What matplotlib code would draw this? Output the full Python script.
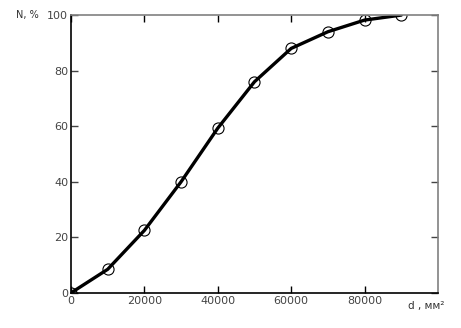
import matplotlib
matplotlib.use('Agg')
import matplotlib.pyplot as plt

d = [0, 10000, 20000, 30000, 40000, 50000, 60000, 70000, 80000, 90000]
n = [0, 8.5, 22.5, 40, 59.3, 76, 88, 94, 98.2, 100]
xticks = [0, 20000, 40000, 60000, 80000]
yticks = [0, 20, 40, 60, 80, 100]

plt.rcParams['font.family'] = 'DejaVu Sans'
fig = plt.figure(figsize=(4.61, 3.28), dpi=100)
ax = fig.add_axes([0.154, 0.107, 0.796, 0.847])

ax.plot(d, n, color='black', lw=2.4, solid_capstyle='round')
ax.plot(d, n, ls='none', marker='o', ms=8, mfc='none', mec='black', mew=0.8)

ax.set_xlim(0, 100000)
ax.set_ylim(0, 100)
ax.set_xticks(xticks)
ax.set_yticks(yticks)
ax.set_xticklabels([str(t) for t in xticks], color='#444444', fontsize=8)
ax.set_yticklabels([str(t) for t in yticks], color='#444444', fontsize=8)
ax.tick_params(direction='in', length=5, width=1, top=True, right=True, pad=2)
ax.tick_params(axis='y', which='both', right=True, colors='#444444')

for s in ['left', 'bottom']:
    ax.spines[s].set_color('black')
for s in ['right', 'top']:
    ax.spines[s].set_color('#808080')
for s in ax.spines.values():
    s.set_linewidth(1.2)

fig.text(0.035, 0.955, 'N, %', fontsize=7, color='#333333', va='center')
fig.text(0.885, 0.068, 'd , мм²', fontsize=7.5, color='#333333', va='center')

fig.savefig('out.png', dpi=100)
